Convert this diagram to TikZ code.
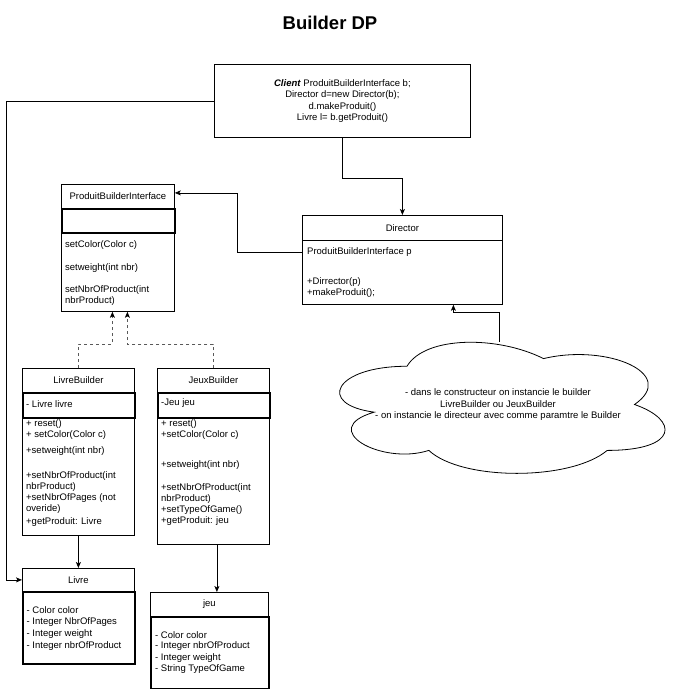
\documentclass[tikz,border=0pt]{standalone}
\usepackage{fontspec}
\setmainfont{Liberation Sans}
\usetikzlibrary{arrows.meta,calc}
\begin{document}
\begin{tikzpicture}[x=1pt,y=-1pt,
  txt/.style={inner sep=0pt, anchor=west, font=\fontsize{9.5}{11.5}\selectfont},
  ctxt/.style={inner sep=0pt, font=\fontsize{9.5}{11.5}\selectfont},
  box/.style={draw, line width=0.8pt, inner sep=0pt, anchor=north west},
  comp/.style={line width=1.5pt},
  conn/.style={line width=0.8pt, -{Stealth[length=6pt,width=5pt,inset=1.5pt]}},
  dconn/.style={line width=0.8pt, draw=black!65, dash pattern=on 3pt off 3pt, -{Stealth[length=6pt,width=5pt,inset=1.5pt,black]}}
]
\useasboundingbox (0,0) rectangle (679,689);

% title
\node[inner sep=0pt, font=\bfseries\fontsize{18.5}{22}\selectfont] (title) at (330,23) {Builder DP};

% client
\node[box, minimum width=256, minimum height=73] (client) at (214,64) {};
\node[ctxt, align=center] (clienttxt) at (client.center) {\textbf{\textit{Client}} ProduitBuilderInterface b;\\Director d=new Director(b);\\d.makeProduit()\\Livre l= b.getProduit()};

% ProduitBuilderInterface
\node[box, minimum width=113, minimum height=24] (pbih) at (61,184) {};
\node[box, minimum width=113, minimum height=79] (pbim) at (61,232) {};
\node[box, comp, minimum width=113, minimum height=24] (pbia) at (61,208) {};
\node[ctxt] (pbit) at (pbih.center) {ProduitBuilderInterface};
\node[txt] (pbi1) at (65,245.5) {setColor(Color c)};
\node[txt] (pbi2) at (65,268) {setweight(int nbr)};
\node[txt] (pbi3) at (65,290) {setNbrOfProduct(int};
\node[txt] (pbi4) at (65,301) {nbrProduct)};

% Director
\node[box, minimum width=200, minimum height=25] (dirh) at (302,215) {};
\node[box, minimum width=200, minimum height=64] (dirb) at (302,240) {};
\node[ctxt] (dirt) at (dirh.center) {Director};
\node[txt] (dir1) at (307,252.5) {ProduitBuilderInterface p};
\node[txt] (dir2) at (307,282.5) {+Dirrector(p)};
\node[txt] (dir3) at (307,293.5) {+makeProduit();};

% LivreBuilder
\node[box, minimum width=112, minimum height=24] (lbh) at (22,368) {};
\node[box, minimum width=112, minimum height=118] (lbm) at (22,417) {};
\node[box, comp, minimum width=112, minimum height=25] (lba) at (22,392) {};
\node[ctxt] (lbt) at (lbh.center) {LivreBuilder};
\node[txt] (lba1) at (26,404) {- Livre livre};
\node[txt] (lb1) at (26,424) {+ reset()};
\node[txt] (lb2) at (26,435) {+ setColor(Color c)};
\node[txt] (lb3) at (26,451) {+setweight(int nbr)};
\node[txt] (lb4) at (26,476.5) {+setNbrOfProduct(int};
\node[txt] (lb5) at (26,487.5) {nbrProduct)};
\node[txt] (lb6) at (26,498.5) {+setNbrOfPages (not};
\node[txt] (lb7) at (26,509.5) {overide)};
\node[txt] (lb8) at (26,522) {+getProduit: Livre};

% JeuxBuilder
\node[box, minimum width=112, minimum height=24] (jbh) at (157,368) {};
\node[box, minimum width=112, minimum height=127] (jbm) at (157,417) {};
\node[box, comp, minimum width=112, minimum height=25] (jba) at (157,392) {};
\node[ctxt] (jbt) at (jbh.center) {JeuxBuilder};
\node[txt] (jba1) at (161,403.5) {-Jeu jeu};
\node[txt] (jb1) at (161,424) {+ reset()};
\node[txt] (jb2) at (161,435) {+setColor(Color c)};
\node[txt] (jb3) at (161,465) {+setweight(int nbr)};
\node[txt] (jb4) at (161,488) {+setNbrOfProduct(int};
\node[txt] (jb5) at (161,499) {nbrProduct)};
\node[txt] (jb6) at (161,510) {+setTypeOfGame()};
\node[txt] (jb7) at (161,521) {+getProduit: jeu};

% Livre
\node[box, minimum width=112, minimum height=23] (livreh) at (22,568) {};
\node[box, comp, minimum width=112, minimum height=72] (livreb) at (22,591) {};
\node[ctxt] (livret) at (livreh.center) {Livre};
\node[txt] (lv1) at (26.5,610) {- Color color};
\node[txt] (lv2) at (26.5,622) {- Integer NbrOfPages};
\node[txt] (lv3) at (26.5,634) {- Integer weight};
\node[txt] (lv4) at (26.5,646) {- Integer nbrOfProduct};

% jeu
\node[box, minimum width=118, minimum height=24] (jeuh) at (150,592) {};
\node[box, comp, minimum width=118, minimum height=72] (jeub) at (150,616) {};
\node[ctxt] (jeut) at (jeuh.center) {jeu};
\node[txt] (je1) at (155,635) {- Color color};
\node[txt] (je2) at (155,646.5) {- Integer nbrOfProduct};
\node[txt] (je3) at (155,658) {- Integer weight};
\node[txt] (je4) at (155,669.5) {- String TypeOfGame};

% cloud
\draw[line width=0.8pt] (407,366.25)
  .. controls (334.2,366.25) and (316,404.5) .. (374.24,412.15)
  .. controls (316,428.98) and (381.52,465.7) .. (428.84,450.4)
  .. controls (461.6,481) and (570.8,481) .. (607.2,450.4)
  .. controls (679,450.4) and (679,419.8) .. (634.5,404.5)
  .. controls (679,373.9) and (607.2,343.3) .. (543.5,358.6)
  .. controls (498,335.65) and (425.2,335.65) .. (407,366.25) -- cycle;
\node[ctxt, align=center] (cloudtxt) at (498,405) {- dans le constructeur on instancie le builder\\LivreBuilder ou JeuxBuilder\\- on instancie le directeur avec comme paramtre le Builder};
\coordinate (cloudtop) at (499,342);

% connectors
\draw[conn] (client.west) -- ++(-208,0) |- (livreh.west);
\draw[conn] (client.south) -- ++(0,41) -| (dirh.north);
\draw[conn] ([yshift=-12.5pt]dirb.north west) -| ($(pbih.east)+(63,-3.5)$) -- ([yshift=3.5pt]pbih.east);
\draw[conn] (cloudtop) -- ++(0,-30) -| ([xshift=51pt]dirb.south);
\draw[dconn] (lbh.north) -- ++(0,-24) -| ([xshift=-5.5pt]pbim.south);
\draw[dconn] (jbh.north) -- ++(0,-24) -| ([xshift=9.5pt]pbim.south);
\draw[conn] (lbm.south) -- (livreh.north);
\draw[conn] ([xshift=3.5pt]jbm.south) -- ([xshift=3.5pt]jbm.south |- jeuh.north);
\end{tikzpicture}
\end{document}
